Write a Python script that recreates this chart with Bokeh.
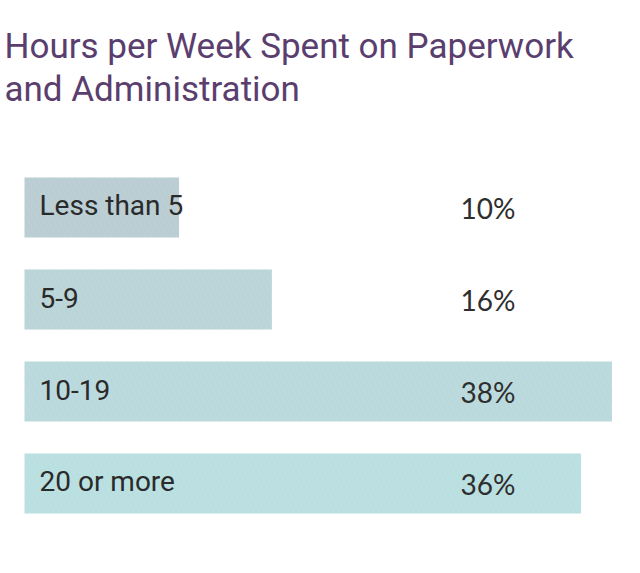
from bokeh.plotting import figure
from bokeh.models import Range1d, Label, ColumnDataSource
from bokeh.core.properties import value
from bokeh.embed import file_html
from bokeh.resources import INLINE

categories = ["Less than 5", "5-9", "10-19", "20 or more"]
percents = [10, 16, 38, 36]
pct_labels = ["10%", "16%", "38%", "36%"]
bar_colors = ["#b9cdd2", "#bad4d7", "#bad9dc", "#b9dfe0"]
title_lines = ["Hours per Week Spent on Paperwork", "and Administration"]

src = ColumnDataSource(dict(
    idx=list(range(len(categories))),
    cat=categories,
    val=percents,
    lab=pct_labels,
    col=bar_colors,
))

W, H = 640, 573
px_per_unit = 15.46
x0 = -24 / px_per_unit
row_px = 92
y_top = -207 / row_px
y_bot = (H - 207) / row_px

p = figure(width=W, height=H, output_backend="svg", toolbar_location=None,
           x_range=Range1d(x0, x0 + W / px_per_unit),
           y_range=Range1d(y_bot, y_top),
           x_axis_location=None, y_axis_location=None, min_border=0)
p.grid.visible = False
p.outline_line_color = None
p.background_fill_color = "white"
p.border_fill_color = "white"

p.hbar(y="idx", left=0, right="val", height=60 / row_px, source=src,
       fill_color="col", line_color=None,
       hatch_pattern="\\", hatch_color="white", hatch_alpha=0.14,
       hatch_scale=10, hatch_weight=0.6)

p.text(x=0, y="idx", text="cat", source=src, x_offset=15, y_offset=-2,
       text_font=value("Roboto"), text_font_size="28px",
       text_color="#2a2a2a", text_baseline="alphabetic", text_align="left")

p.text(x=0, y="idx", text="lab", source=src, x_offset=436, y_offset=0,
       text_font=value("Lato"), text_font_size="28px",
       text_color="#2e2e2e", text_baseline="alphabetic", text_align="left")

for i, (line, base) in enumerate(zip(title_lines, [46, 89])):
    p.add_layout(Label(x=4, y=H - base, x_units="screen", y_units="screen",
                       text=line, text_font="Roboto",
                       text_font_size="35px", text_color="#5a3e6e",
                       text_baseline="alphabetic", text_align="left"))

open("out.html", "w").write(file_html(p, INLINE))
